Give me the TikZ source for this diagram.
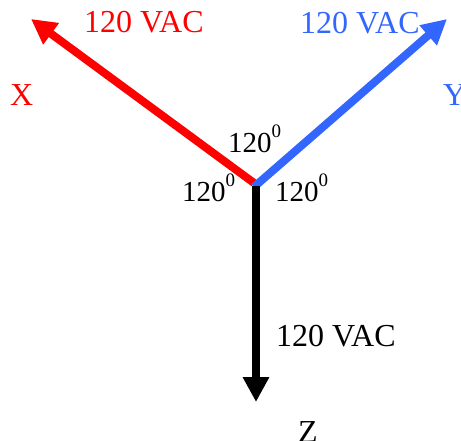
\documentclass[tikz,border=0pt]{standalone}
\usepackage{fontspec}
\setmainfont{Liberation Serif}
\usetikzlibrary{arrows.meta}
\definecolor{phred}{RGB}{255,0,0}
\definecolor{phblue}{RGB}{51,102,255}
\tikzset{
  phase/.style={line width=8pt,-{Triangle[length=25pt,width=25pt]}},
  lbl/.style={anchor=base west,inner sep=0pt,font=\fontsize{32}{36}\selectfont},
  deg/.style={anchor=base west,inner sep=0pt,font=\fontsize{29}{32}\selectfont}
}
\newcommand{\degsup}{\raisebox{15pt}{\fontsize{19}{19}\selectfont 0}}
\begin{document}
\begin{tikzpicture}[x=1pt,y=-1pt]
\useasboundingbox (0,0) rectangle (461,441);
\coordinate (or) at (254,183);
\coordinate (ob) at (254,187);
\coordinate (ok) at (256,186);
\coordinate (tx) at (31,19);
\coordinate (ty) at (447,19);
\coordinate (tz) at (256,402);
\draw[phase,phred] (or) -- (tx);
\draw[phase,phblue] (ob) -- (ty);
\draw[phase,black] (ok) -- (tz);
\node[lbl,text=phred] (vx) at (84,33) {120 VAC};
\node[lbl,text=phred] (nx) at (10,106) {X};
\node[lbl,text=phblue] (vy) at (300,34) {120 VAC};
\node[lbl,text=phblue] (ny) at (443,106) {Y};
\node[lbl] (vz) at (276,346) {120 VAC};
\node[lbl] (nz) at (298,442) {Z};
\node[deg] (dt) at (228,153) {120\degsup};
\node[deg] (dl) at (182,202) {120\degsup};
\node[deg] (dr) at (275,202) {120\degsup};
\end{tikzpicture}
\end{document}
